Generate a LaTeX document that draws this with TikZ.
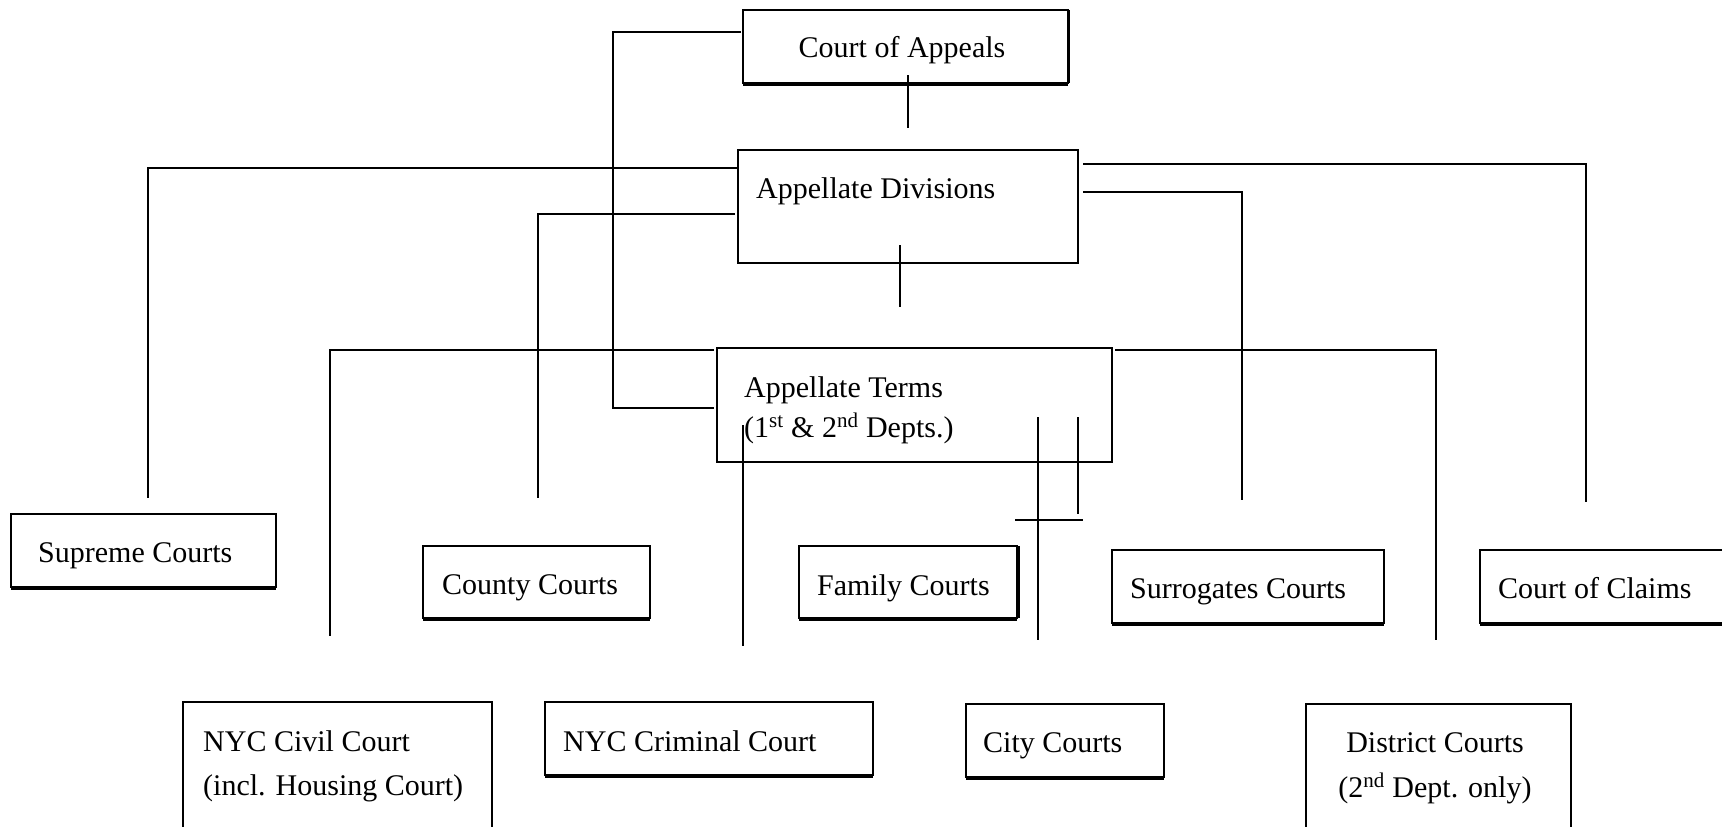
\documentclass[tikz,border=0pt]{standalone}
\usepackage{fontspec}
\setmainfont{Liberation Serif}
\begin{document}
\begin{tikzpicture}[x=1pt,y=-1pt,
  box/.style={draw, line width=1.8pt, inner sep=0pt, outer sep=0pt, anchor=north west},
  lbl/.style={inner sep=0pt, anchor=base west, font=\fontsize{30}{36}\selectfont},
  conn/.style={line width=2pt},
  thinconn/.style={line width=1.5pt},
  ledge/.style={line width=4pt}]
\useasboundingbox (0,0) rectangle (1722,827);
\clip (0,0) rectangle (1722,827);

% court boxes
\node[box, minimum width=325pt, minimum height=73pt]  (coa) at (743,10)   {};
\node[box, minimum width=340pt, minimum height=113pt] (ad)  at (738,150)  {};
\node[box, minimum width=395pt, minimum height=114pt] (at)  at (717,348)  {};
\node[box, minimum width=265pt, minimum height=73pt]  (sup) at (11,514)   {};
\node[box, minimum width=227pt, minimum height=72pt]  (cty) at (423,546)  {};
\node[box, minimum width=218pt, minimum height=72pt]  (fam) at (799,546)  {};
\node[box, minimum width=272pt, minimum height=73pt]  (sur) at (1112,550) {};
\node[box, minimum width=300pt, minimum height=73pt]  (clm) at (1480,550) {};
\node[box, minimum width=309pt, minimum height=160pt] (civ) at (183,702)  {};
\node[box, minimum width=328pt, minimum height=73pt]  (crm) at (545,702)  {};
\node[box, minimum width=198pt, minimum height=73pt]  (cit) at (966,704)  {};
\node[box, minimum width=265pt, minimum height=160pt] (dis) at (1306,704) {};

% heavier lower edges (shadow look)
\foreach \n in {coa,sup,cty,fam,sur,clm,crm,cit}
  \draw[ledge] ([yshift=-1pt]\n.south west) -- ([yshift=-1pt]\n.south east);
\draw[line width=3pt] ([xshift=0.6pt]coa.north east) -- ([xshift=0.6pt]coa.south east);
\draw[line width=3.5pt] ([xshift=1pt]fam.north east) -- ([xshift=1pt]fam.south east);

% labels
\node[lbl, anchor=base] (coa-t) at (902,57) {Court of Appeals};
\node[lbl] (ad-t)  at (756,198)  {Appellate Divisions};
\node[lbl] (at-t1) at (744,397)  {Appellate Terms};
\node[lbl] (at-t2) at (744,437)  {(1\textsuperscript{st} \& 2\textsuperscript{nd} Depts.)};
\node[lbl] (sup-t) at (38,562)   {Supreme Courts};
\node[lbl] (cty-t) at (442,594)  {County Courts};
\node[lbl] (fam-t) at (817,595)  {Family Courts};
\node[lbl] (sur-t) at (1130,598) {Surrogates Courts};
\node[lbl] (clm-t) at (1498,598) {Court of Claims};
\node[lbl] (civ-t1) at (203,751) {NYC Civil Court};
\node[lbl] (civ-t2) at (203,795) {(incl. Housing Court)};
\node[lbl] (crm-t) at (563,751)  {NYC Criminal Court};
\node[lbl] (cit-t) at (983,752)  {City Courts};
\node[lbl, anchor=base] (dis-t1) at (1435,752) {District Courts};
\node[lbl, anchor=base] (dis-t2) at (1435,797) {(2\textsuperscript{nd} Dept. only)};

% Court of Appeals
\draw[conn] ([xshift=2pt,yshift=8pt]coa.south) -- ++(0,53);
\draw[thinconn] ([xshift=-2pt,yshift=-22pt]coa.north west) -- ++(-128,0)
  |- ([xshift=-3pt,yshift=-3pt]at.west);

% Appellate Divisions
\draw[conn] ([xshift=-1pt,yshift=-18pt]ad.north west) -| ([xshift=4.5pt,yshift=16pt]sup.north);
\draw[conn] ([xshift=-3pt,yshift=-64pt]ad.north west) -| ([xshift=1.5pt,yshift=48pt]cty.north);
\draw[conn] ([xshift=5pt,yshift=-14pt]ad.north east) -| ([xshift=106pt,yshift=48pt]clm.north west);
\draw[conn] ([xshift=5pt,yshift=-42pt]ad.north east) -| ([xshift=-6pt,yshift=50pt]sur.north);
\draw[conn] ([xshift=-8pt,yshift=18pt]ad.south) -- ([xshift=-14.5pt,yshift=41pt]at.north);

% Appellate Terms
\draw[conn] ([xshift=-3pt,yshift=-2pt]at.north west) -| ([xshift=-7.5pt,yshift=66pt]civ.north);
\draw[conn] ([xshift=3pt,yshift=-2pt]at.north east) -| ([xshift=-2.5pt,yshift=64pt]dis.north);
\draw[conn] ([xshift=26pt,yshift=37pt]at.south west) -- ([xshift=198pt,yshift=56pt]crm.north west);
\draw[conn] ([xshift=321pt,yshift=45pt]at.south west) -- ([xshift=-27pt,yshift=64pt]cit.north);
\draw[conn] ([xshift=361pt,yshift=45pt]at.south west) -- ([xshift=61pt,yshift=32pt]fam.north east);
\draw[conn] ([xshift=-2pt,yshift=26pt]fam.north east) -- ([xshift=66pt,yshift=26pt]fam.north east);
\end{tikzpicture}
\end{document}
